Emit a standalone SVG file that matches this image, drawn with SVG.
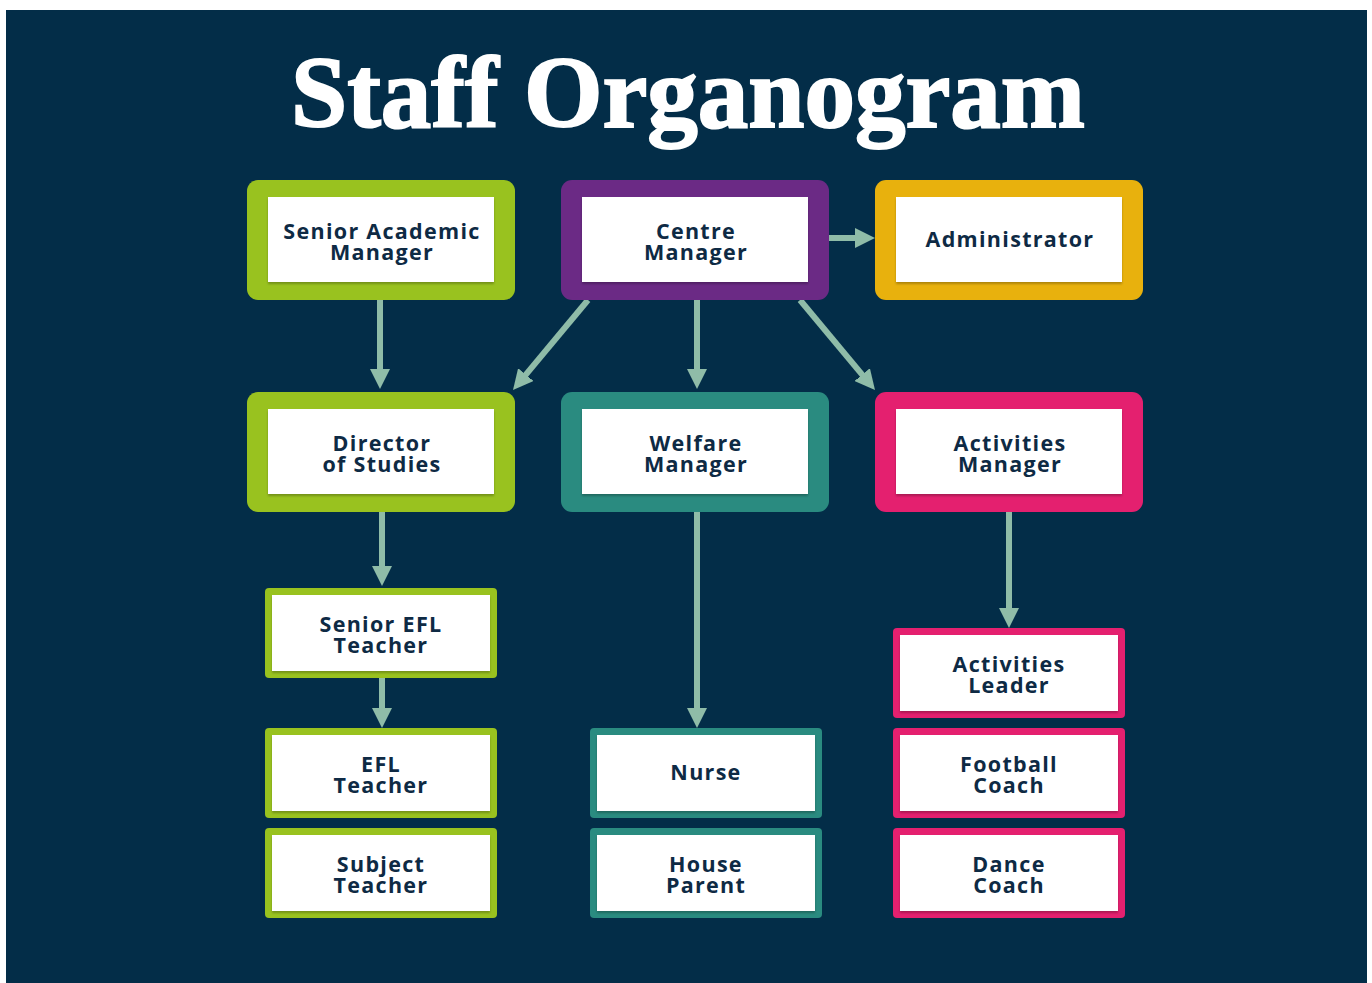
<svg xmlns="http://www.w3.org/2000/svg" width="1372" height="983" viewBox="0 0 1372 983">
  <defs>
    <style>
      .title { font-family: "Liberation Serif", "DejaVu Serif", serif; font-weight: 700; font-size: 101px; fill: #ffffff; stroke: #ffffff; stroke-width: 2px; }
      .lbl { font-family: "Open Sans", "Noto Sans", "DejaVu Sans", sans-serif; font-weight: 700; font-size: 21.5px; letter-spacing: 1.3px; fill: #0e2a44; text-anchor: middle; }
      .card { fill: #ffffff; filter: url(#lift); }
      .green { fill: #99c21f; }
      .purple { fill: #6b2a85; }
      .gold { fill: #e8b10d; }
      .teal { fill: #2a8b80; }
      .pink { fill: #e4206f; }
      .link { stroke: #8fbca8; stroke-width: 6; fill: none; marker-end: url(#head); }
    </style>
    <filter id="lift" x="-5%" y="-5%" width="110%" height="120%">
      <feDropShadow dx="0" dy="2" stdDeviation="1.2" flood-color="#000000" flood-opacity="0.25"/>
    </filter>
    <marker id="head" markerUnits="userSpaceOnUse" markerWidth="21" markerHeight="20" viewBox="0 0 21 20" refX="10" refY="10" orient="auto">
      <path d="M0,0 L20,10 L0,20 z" fill="#8fbca8"/>
    </marker>
  </defs>

  <!-- backdrop -->
  <rect x="0" y="0" width="1372" height="983" fill="#ffffff"/>
  <rect x="6" y="10" width="1361" height="973" fill="#032d48"/>

  <text class="title" x="688" y="127" text-anchor="middle">Staff Organogram</text>

  <!-- reporting lines -->
  <g id="connectors">
    <line class="link" x1="380" y1="300" x2="380" y2="379"/>
    <line class="link" x1="829" y1="238" x2="865" y2="238"/>
    <line class="link" x1="588" y1="300" x2="519.4" y2="382.3"/>
    <line class="link" x1="697" y1="300" x2="697" y2="379"/>
    <line class="link" x1="800" y1="300" x2="868.6" y2="382.3"/>
    <line class="link" x1="382" y1="512" x2="382" y2="576"/>
    <line class="link" x1="382" y1="678" x2="382" y2="718"/>
    <line class="link" x1="697" y1="512" x2="697" y2="718"/>
    <line class="link" x1="1009" y1="512" x2="1009" y2="618"/>
  </g>

  <!-- top tier -->
  <g id="senior-academic-manager">
    <rect class="green" x="247" y="180" width="268" height="120" rx="11"/>
    <rect class="card" x="268" y="197" width="226" height="85"/>
    <text class="lbl" x="382" y="239">Senior Academic</text>
    <text class="lbl" x="382" y="260">Manager</text>
  </g>
  <g id="centre-manager">
    <rect class="purple" x="561" y="180" width="268" height="120" rx="11"/>
    <rect class="card" x="582" y="197" width="226" height="85"/>
    <text class="lbl" x="696" y="239">Centre</text>
    <text class="lbl" x="696" y="260">Manager</text>
  </g>
  <g id="administrator">
    <rect class="gold" x="875" y="180" width="268" height="120" rx="11"/>
    <rect class="card" x="896" y="197" width="226" height="85"/>
    <text class="lbl" x="1010" y="247">Administrator</text>
  </g>

  <!-- middle tier -->
  <g id="director-of-studies">
    <rect class="green" x="247" y="392" width="268" height="120" rx="11"/>
    <rect class="card" x="268" y="409" width="226" height="85"/>
    <text class="lbl" x="382" y="451">Director</text>
    <text class="lbl" x="382" y="472">of Studies</text>
  </g>
  <g id="welfare-manager">
    <rect class="teal" x="561" y="392" width="268" height="120" rx="11"/>
    <rect class="card" x="582" y="409" width="226" height="85"/>
    <text class="lbl" x="696" y="451">Welfare</text>
    <text class="lbl" x="696" y="472">Manager</text>
  </g>
  <g id="activities-manager">
    <rect class="pink" x="875" y="392" width="268" height="120" rx="11"/>
    <rect class="card" x="896" y="409" width="226" height="85"/>
    <text class="lbl" x="1010" y="451">Activities</text>
    <text class="lbl" x="1010" y="472">Manager</text>
  </g>

  <!-- academic staff -->
  <g id="senior-efl-teacher">
    <rect class="green" x="265" y="588" width="232" height="90" rx="4"/>
    <rect class="card" x="272" y="595" width="218" height="76"/>
    <text class="lbl" x="381" y="632">Senior EFL</text>
    <text class="lbl" x="381" y="653">Teacher</text>
  </g>
  <g id="efl-teacher">
    <rect class="green" x="265" y="728" width="232" height="90" rx="4"/>
    <rect class="card" x="272" y="735" width="218" height="76"/>
    <text class="lbl" x="381" y="772">EFL</text>
    <text class="lbl" x="381" y="793">Teacher</text>
  </g>
  <g id="subject-teacher">
    <rect class="green" x="265" y="828" width="232" height="90" rx="4"/>
    <rect class="card" x="272" y="835" width="218" height="76"/>
    <text class="lbl" x="381" y="872">Subject</text>
    <text class="lbl" x="381" y="893">Teacher</text>
  </g>

  <!-- welfare staff -->
  <g id="nurse">
    <rect class="teal" x="590" y="728" width="232" height="90" rx="4"/>
    <rect class="card" x="597" y="735" width="218" height="76"/>
    <text class="lbl" x="706" y="780">Nurse</text>
  </g>
  <g id="house-parent">
    <rect class="teal" x="590" y="828" width="232" height="90" rx="4"/>
    <rect class="card" x="597" y="835" width="218" height="76"/>
    <text class="lbl" x="706" y="872">House</text>
    <text class="lbl" x="706" y="893">Parent</text>
  </g>

  <!-- activities staff -->
  <g id="activities-leader">
    <rect class="pink" x="893" y="628" width="232" height="90" rx="4"/>
    <rect class="card" x="900" y="635" width="218" height="76"/>
    <text class="lbl" x="1009" y="672">Activities</text>
    <text class="lbl" x="1009" y="693">Leader</text>
  </g>
  <g id="football-coach">
    <rect class="pink" x="893" y="728" width="232" height="90" rx="4"/>
    <rect class="card" x="900" y="735" width="218" height="76"/>
    <text class="lbl" x="1009" y="772">Football</text>
    <text class="lbl" x="1009" y="793">Coach</text>
  </g>
  <g id="dance-coach">
    <rect class="pink" x="893" y="828" width="232" height="90" rx="4"/>
    <rect class="card" x="900" y="835" width="218" height="76"/>
    <text class="lbl" x="1009" y="872">Dance</text>
    <text class="lbl" x="1009" y="893">Coach</text>
  </g>
</svg>
